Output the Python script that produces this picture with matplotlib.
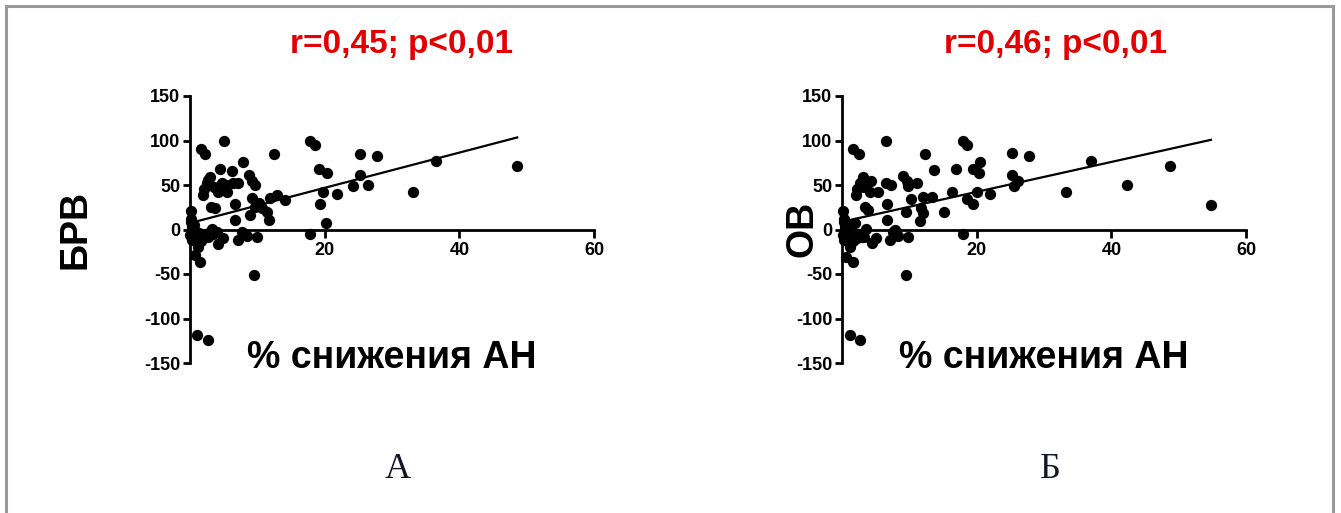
import numpy as np
import matplotlib
matplotlib.use('Agg')
import matplotlib.pyplot as plt
from matplotlib.lines import Line2D

plt.rcParams['axes.unicode_minus'] = False

# panel A: % снижения АН vs БРВ
x_brv = [0.1, 0.2, 0.3, 0.0, 0.5, 1.0, 1.2, 0.7, 1.5, 1.1, 2.6,
         0.4, 0.8, 1.3, 1.8, 2.0, 2.3, 2.7, 3.0, 3.4, 0.2, 0.6, 0.3, 1.6,
         1.6, 2.2, 5.1, 3.0, 2.5, 1.9, 3.1, 3.7, 4.5, 4.7, 4.1, 5.5, 6.2, 6.4,
         7.2, 7.9, 8.7, 9.2, 9.7, 6.7, 6.7, 9.2, 8.9, 9.7, 10.7, 11.4, 11.7,
         11.9, 12.9, 14.1, 12.5, 3.2, 4.0, 4.2, 4.9, 7.2, 7.7, 8.4, 9.9, 9.5,
         17.8, 17.8, 18.5, 19.2, 20.3, 19.8, 19.3, 20.2, 21.9, 24.2, 25.2,
         25.3, 26.4, 27.8, 33.1, 36.5, 48.6, 2.6, 3.5, 5.3, 10.2, 2.1]
y_brv = [20.6, 8.6, 3, -6, -3, -8, -19.5, -29, -36, -118, -124,
         -2, -5, -4, -6, -10, -5, -8, -3, -5, 12, 5, -12, -13,
         90, 85, 100, 59, 52, 39, 25.5, 23.6, 67.5, 52, 42, 42, 66, 52,
         52, 76, 61, 55, 50, 29, 11, 35, 16, 25.5, 23.6, 20, 10.5,
         35, 39, 33, 85, 1, -3, -16, -10, -12, -3, -7.5, -8, -50.6,
         -5.6, 100, 95, 67.5, 63, 42, 28.5, 7.5, 40, 49, 85,
         61, 50, 82.5, 42, 77, 71, 56, 48, 50, 30, 45]

# panel Б: % снижения АН vs ОВ
x_ov = [0.15, 0.25, 0.4, 0.1, 0.6, 1.1, 1.2, 0.6, 1.6, 1.2, 2.7,
        0.4, 0.9, 1.4, 1.9, 2.2, 2.5, 2.9, 0.3, 0.7, 0.3, 1.6, 1.9,
        1.6, 2.5, 6.6, 3.1, 2.7, 2.1, 3.4, 3.9, 4.3, 4.1, 5.4, 6.6, 7.3,
        6.7, 6.7, 9.1, 9.6, 9.8, 9.5, 10.2, 11.2, 12.3, 12.0, 13.3, 11.8,
        12.0, 11.6, 13.6, 15.1, 16.4, 16.9, 18.0, 18.6, 18.0, 18.6, 19.5,
        20.0, 20.5, 19.4, 20.4, 22.0, 25.2, 25.3, 25.6, 26.2, 27.8, 33.2,
        37.0, 42.4, 48.7, 54.8, 9.5, 3.6, 4.4, 5.1, 3.2, 7.1, 7.6, 8.3,
        9.8, 3.3, 2.3, 7.8]
y_ov = [20.6, 8.6, 3, -6, -3, -8, -19.5, -31, -36, -118, -124,
        -2, -5, -4, -6, -10, -5, -8, 12, 5, -12, -13, 7,
        90, 85, 100, 59, 52, 39, 25.5, 22, 54, 42, 42, 52, 50,
        29, 11, 60, 55, 49, 20, 34, 52, 85, 37, 37, 24,
        18, 10, 67, 20, 42, 67.5, 100, 95, -5.6, 34, 28.5,
        42, 76, 67.5, 63, 40, 85.5, 61, 49, 55, 82.5, 42,
        77, 50, 71, 27.4, -50.6, 1, -15, -10, -8, -12, -3, -7.5,
        -8, 48, 45, -1]

# regression lines (slope, intercept)
fit_brv = (1.98, 7.2)
fit_ov = (1.68, 8.7)

titles = ['r=0,45; p<0,01', 'r=0,46; p<0,01']
ylabels = ['БРВ', 'ОВ']
letters = ['А', 'Б']

W, H = 1341, 513
fig = plt.figure(figsize=(W / 100, H / 100), dpi=100)
fig.patch.set_facecolor('white')


def px(x, y):
    return x / W, 1 - y / H


# grey frame round the picture
frame = dict(color='#9a9a9a', lw=2.2, transform=fig.transFigure)
fig.add_artist(Line2D([6 / W, 6 / W], [1 - 6 / H, -0.05], **frame))
fig.add_artist(Line2D([6 / W, 1333 / W], [1 - 6 / H, 1 - 6 / H], **frame))
fig.add_artist(Line2D([1333 / W, 1333 / W], [1 - 6 / H, -0.05], **frame))

panels = [(x_brv, y_brv, fit_brv, 190), (x_ov, y_ov, fit_ov, 842)]
bold = dict(family='Liberation Sans', fontweight='bold')

for i, (xs, ys, fit, left) in enumerate(panels):
    xs = np.array(xs)
    ys = np.array(ys)
    ax = fig.add_axes([left / W, 1 - 363 / H, 404 / W, 267 / H])
    ax.scatter(xs, ys, s=66, color='black', zorder=3, clip_on=False,
               linewidths=0)
    lx = np.array([0.7, xs.max()])
    ax.plot(lx, fit[0] * lx + fit[1], color='black', lw=1.6, zorder=4)

    ax.set_xlim(0, 60)
    ax.set_ylim(-150, 150)
    ax.spines['top'].set_visible(False)
    ax.spines['right'].set_visible(False)
    ax.spines['bottom'].set_position(('data', 0))
    ax.spines['left'].set_linewidth(2)
    ax.spines['bottom'].set_linewidth(2)
    ax.set_xticks([20, 40, 60])
    ax.set_yticks([-150, -100, -50, 0, 50, 100, 150])
    ax.tick_params(axis='both', width=2, length=5, labelsize=13, pad=2)
    ax.tick_params(axis='x', length=6, pad=3)
    for lab in ax.get_xticklabels() + ax.get_yticklabels():
        lab.set_fontweight('bold')
        lab.set_family('Liberation Sans')
    ax.patch.set_alpha(0)

# texts
fig.text(*px(401, 45), titles[0], color='#e30000', fontsize=24,
         ha='center', va='center', **bold)
fig.text(*px(1055, 45), titles[1], color='#e30000', fontsize=24,
         ha='center', va='center', **bold)
fig.text(*px(75, 229), ylabels[0], fontsize=27, rotation=90,
         ha='center', va='center', **bold)
fig.text(*px(802, 229), ylabels[1], fontsize=27, rotation=90,
         ha='center', va='center', **bold)
fig.text(*px(392, 358), '% снижения АН', fontsize=27,
         ha='center', va='center', **bold)
fig.text(*px(1044, 358), '% снижения АН', fontsize=27,
         ha='center', va='center', **bold)
fig.text(*px(398, 470), letters[0], fontsize=26, family='Liberation Serif',
         color='#15152a', ha='center', va='center')
fig.text(*px(1050, 470), letters[1], fontsize=26, family='Liberation Serif',
         color='#15152a', ha='center', va='center')

fig.savefig('out.png', dpi=100, facecolor='white')
